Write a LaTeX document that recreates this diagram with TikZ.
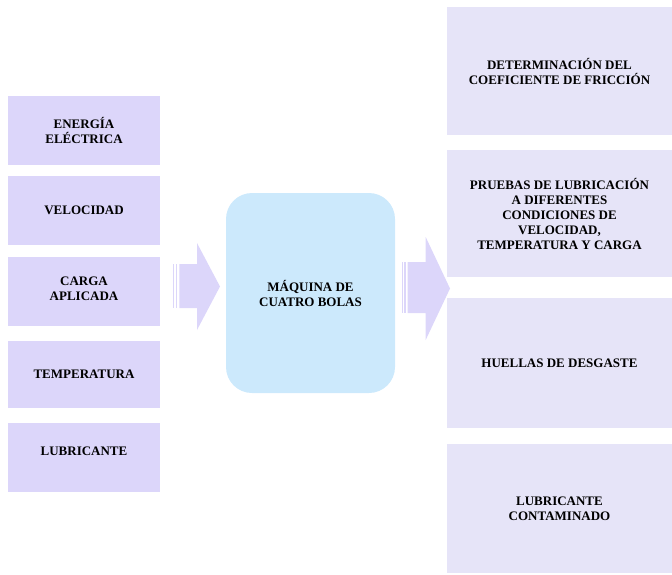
\documentclass[tikz,border=0pt]{standalone}
\usepackage{fontspec}
\setmainfont{Liberation Serif}

\definecolor{lila}{RGB}{220,214,250}
\definecolor{lilaclaro}{RGB}{230,228,248}
\definecolor{celeste}{RGB}{204,233,252}

\begin{document}
\begin{tikzpicture}[x=1pt, y=-1pt,
  texto/.style={align=center, inner sep=0pt, font=\fontsize{13}{15}\selectfont\bfseries},
  entrada/.style={texto, fill=lila, minimum width=152pt, minimum height=69pt},
  salida/.style={texto, fill=lilaclaro, minimum width=225pt, minimum height=128pt},
  flecha/.style={fill=lila}]

\useasboundingbox (0,0) rectangle (672,574);

% entradas a la izquierda
\path
(84,130.5) node[entrada] (energia) {ENERGÍA\\ELÉCTRICA}
(84,210.5) node[entrada] (velocidad) {VELOCIDAD}
(84,291.5) node[entrada, text depth=5pt] (carga) {CARGA\\APLICADA}
(84,374.5) node[entrada, minimum height=67pt] (temperatura) {TEMPERATURA}
(84,457.5) node[entrada, text depth=12pt] (lubricante) {LUBRICANTE};

% maquina en el centro
\node[texto, fill=celeste, rounded corners=26pt, minimum width=169pt,
  minimum height=200pt] (maquina) at (310.5,293) {MÁQUINA DE\\CUATRO BOLAS};

% resultados a la derecha
\path
(559.5,71)  node[salida] (friccion) {DETERMINACIÓN DEL\\COEFICIENTE DE FRICCIÓN}
(559.5,213.5) node[salida, minimum height=127pt] (pruebas) {PRUEBAS DE LUBRICACIÓN\\A DIFERENTES\\CONDICIONES DE\\VELOCIDAD,\\TEMPERATURA Y CARGA}
(559.5,363) node[salida, minimum height=130pt] (huellas) {HUELLAS DE DESGASTE}
(559.5,508.5) node[salida, minimum height=129pt] (contaminado) {LUBRICANTE\\CONTAMINADO};

% flecha de entrada
\fill[flecha] (173,264) rectangle (174.4,308);
\fill[flecha] (176,264) rectangle (177.4,308);
\fill[flecha] (179.3,264) -- (197,264) -- (197,243) -- (220,286.5)
  -- (197,330) -- (197,308) -- (179.3,308) -- cycle;

% flecha de salida
\fill[flecha] (401.7,262) rectangle (403,313);
\fill[flecha] (404.3,262) rectangle (405.6,313);
\fill[flecha] (407.7,262) -- (425.7,262) -- (425.7,237) -- (450,288.5)
  -- (425.7,340) -- (425.7,313) -- (407.7,313) -- cycle;

\end{tikzpicture}
\end{document}
